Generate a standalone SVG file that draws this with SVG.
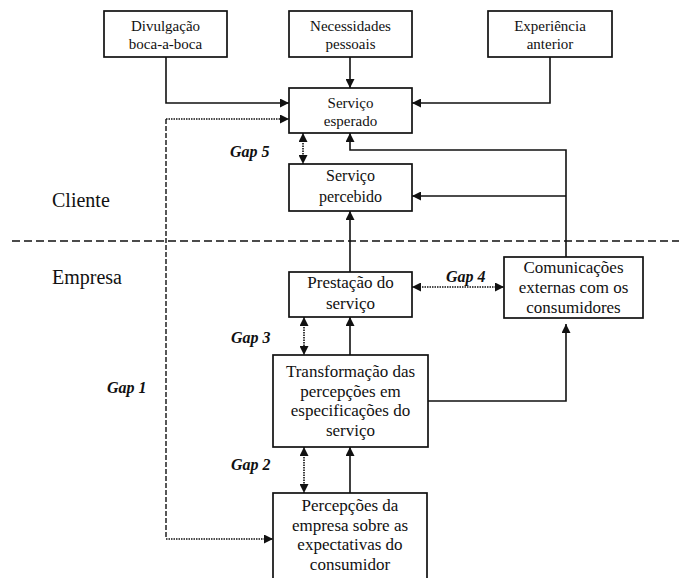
<svg xmlns="http://www.w3.org/2000/svg" width="679" height="578" viewBox="0 0 679 578">
<style>
.box{fill:#fff;stroke:#111;stroke-width:1.7}
.t{font-family:"Liberation Serif","Times New Roman","DejaVu Serif",serif;fill:#111;text-anchor:middle}
.s15{font-size:15px}.s16{font-size:16px}.s17{font-size:17px}
.side{font-family:"Liberation Serif","Times New Roman","DejaVu Serif",serif;font-size:20px;fill:#111}
.gap{font-family:"Liberation Serif","Times New Roman","DejaVu Serif",serif;font-size:16px;font-weight:bold;font-style:italic;fill:#111}
.ln{fill:none;stroke:#111;stroke-width:1.6}
.dot{fill:none;stroke:#111;stroke-width:1.6;stroke-dasharray:1.5 1}
.dash{fill:none;stroke:#111;stroke-width:1.4;stroke-dasharray:5 2}
.div{fill:none;stroke:#111;stroke-width:1.5;stroke-dasharray:8 4}
</style>
<defs>
<marker id="ah" viewBox="0 0 10 10" refX="10" refY="5" markerWidth="9" markerHeight="9" markerUnits="userSpaceOnUse" orient="auto-start-reverse">
<path d="M0,0 L10,5 L0,10 z" fill="#111"/>
</marker>
</defs>

<g id="labels">
<text class="side" x="52" y="207">Cliente</text>
<text class="side" x="52" y="284">Empresa</text>
<text class="gap" x="230" y="157">Gap 5</text>
<text class="gap" x="446" y="282">Gap 4</text>
<text class="gap" x="231" y="343">Gap 3</text>
<text class="gap" x="107" y="393">Gap 1</text>
<text class="gap" x="231" y="470">Gap 2</text>
</g>

<g id="connectors">
<line class="div" x1="12" y1="241" x2="679" y2="241"/>
<polyline class="ln" points="166,57 166,103 289,103" marker-end="url(#ah)"/>
<line class="ln" x1="350" y1="57" x2="350" y2="88" marker-end="url(#ah)"/>
<polyline class="ln" points="550,57 550,103 412,103" marker-end="url(#ah)"/>
<polyline class="ln" points="566,257 566,150 350,150 350,133" marker-end="url(#ah)"/>
<line class="ln" x1="566" y1="196" x2="412" y2="196" marker-end="url(#ah)"/>
<line class="ln" x1="350" y1="272" x2="350" y2="211" marker-end="url(#ah)"/>
<line class="ln" x1="350" y1="355" x2="350" y2="317" marker-end="url(#ah)"/>
<line class="ln" x1="350" y1="493" x2="350" y2="447" marker-end="url(#ah)"/>
<polyline class="ln" points="428,401 566,401 566,324" marker-end="url(#ah)"/>
<line class="dot" x1="303" y1="133" x2="303" y2="164" marker-start="url(#ah)" marker-end="url(#ah)"/>
<line class="dot" x1="412" y1="287" x2="504" y2="287" marker-start="url(#ah)" marker-end="url(#ah)"/>
<line class="dot" x1="304" y1="317" x2="304" y2="355" marker-start="url(#ah)" marker-end="url(#ah)"/>
<line class="dot" x1="304" y1="447" x2="304" y2="493" marker-start="url(#ah)" marker-end="url(#ah)"/>
<line class="dash" x1="166" y1="119" x2="166" y2="539"/>
<line class="dot" x1="166" y1="119" x2="289" y2="119" marker-end="url(#ah)"/>
<line class="dot" x1="166" y1="539" x2="273" y2="539" marker-end="url(#ah)"/>
</g>

<g id="divulgacao">
<rect class="box" x="104" y="11" width="123" height="46"/>
<text class="t s15" x="165.5" y="31">Divulgação</text>
<text class="t s15" x="165.5" y="49">boca-a-boca</text>
</g>
<g id="necessidades">
<rect class="box" x="289" y="11" width="123" height="46"/>
<text class="t s15" x="350.5" y="31">Necessidades</text>
<text class="t s15" x="350.5" y="49">pessoais</text>
</g>
<g id="experiencia">
<rect class="box" x="488" y="11" width="124" height="46"/>
<text class="t s15" x="550" y="31">Experiência</text>
<text class="t s15" x="550" y="49">anterior</text>
</g>
<g id="esperado">
<rect class="box" x="289" y="88" width="123" height="45"/>
<text class="t s15" x="350.5" y="108">Serviço</text>
<text class="t s15" x="350.5" y="126">esperado</text>
</g>
<g id="percebido">
<rect class="box" x="289" y="164" width="123" height="47"/>
<text class="t s16" x="350.5" y="181">Serviço</text>
<text class="t s16" x="350.5" y="202">percebido</text>
</g>
<g id="prestacao">
<rect class="box" x="289" y="272" width="123" height="45"/>
<text class="t s17" x="350.5" y="288">Prestação do</text>
<text class="t s17" x="350.5" y="309">serviço</text>
</g>
<g id="comunicacoes">
<rect class="box" x="504" y="257" width="139" height="61"/>
<text class="t s17" x="573.5" y="273">Comunicações</text>
<text class="t s17" x="573.5" y="293">externas com os</text>
<text class="t s17" x="573.5" y="313">consumidores</text>
</g>
<g id="transformacao">
<rect class="box" x="273" y="355" width="155" height="92"/>
<text class="t s17" x="350.5" y="377">Transformação das</text>
<text class="t s17" x="350.5" y="397">percepções em</text>
<text class="t s17" x="350.5" y="416">especificações do</text>
<text class="t s17" x="350.5" y="436">serviço</text>
</g>
<g id="percepcoes">
<rect class="box" x="273" y="493" width="154" height="100"/>
<text class="t s17" x="350" y="511">Percepções da</text>
<text class="t s17" x="350" y="531">empresa sobre as</text>
<text class="t s17" x="350" y="550">expectativas do</text>
<text class="t s17" x="350" y="570">consumidor</text>
</g>
</svg>
